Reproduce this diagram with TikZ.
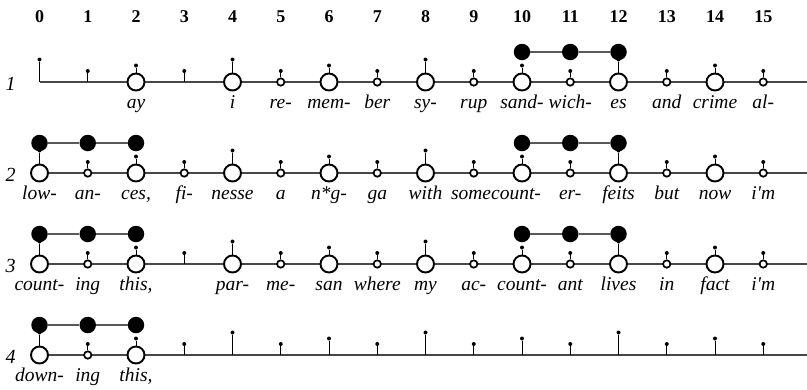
\documentclass[tikz,border=0pt]{standalone}
\usepackage{fontspec}
\setmainfont{Liberation Serif}
\tikzset{
  axisline/.style={draw=black!72, line width=1.4pt},
  stemline/.style={draw=black, line width=1pt},
  stemdot/.style={circle, fill=black, inner sep=0pt, minimum size=4pt},
  bigsyl/.style={circle, draw=black, fill=white, line width=1.9pt, minimum size=17pt, inner sep=0pt},
  smallsyl/.style={circle, draw=black, fill=white, line width=1.7pt, minimum size=7.4pt, inner sep=0pt},
  nosyl/.style={shape=coordinate},
  beatdot/.style={circle, fill=black, inner sep=0pt, minimum size=16.5pt},
  beatlink/.style={draw=black!65, line width=1.4pt},
  syl/.style={font=\fontsize{19.5}{19.5}\selectfont\itshape, anchor=base, inner sep=0pt},
  colnum/.style={font=\fontsize{18}{18}\selectfont\bfseries, anchor=base, inner sep=0pt},
  rowlab/.style={font=\fontsize{20}{20}\selectfont\itshape, anchor=base, inner sep=0pt},
}
\newcommand{\meterrow}[3]{%
  \coordinate (s#1) at (39.5,#2);
  \coordinate (e#1) at (807,#2);
  \draw[axisline] (s#1) -- (e#1);
  \node[rowlab] (lab#1) at (10.5,#2+8.7) {#1};
  \foreach \i/\k in {#3}{
    \pgfmathsetmacro\xx{39.5+48.25*\i}
    \pgfmathsetmacro\hh{mod(\i,4)==0 ? 22.5 : (mod(\i,2)==0 ? 16.5 : 11)}
    \node[\k] (c#1-\i) at (\xx,#2) {};
    \node[stemdot] (t#1-\i) at (\xx,#2-\hh) {};
    \draw[stemline] (c#1-\i) -- (t#1-\i);
  }
}
\newcommand{\sylrow}[3]{%
  \foreach \i/\s in {#3}{
    \node[syl] (w#1-\i) at ({39.5+48.25*\i},#2+26) {\s};
  }
}
\newcommand{\beatgroup}[3]{% row, y, first column
  \pgfmathtruncatemacro\ba{#3}
  \pgfmathtruncatemacro\bb{#3+1}
  \pgfmathtruncatemacro\bc{#3+2}
  \node[beatdot] (f#1-\ba) at ({39.5+48.25*\ba},#2-30) {};
  \node[beatdot] (f#1-\bb) at ({39.5+48.25*\bb},#2-30) {};
  \node[beatdot] (f#1-\bc) at ({39.5+48.25*\bc},#2-30) {};
  \draw[beatlink] (f#1-\ba) -- (f#1-\bb);
  \draw[beatlink] (f#1-\bb) -- (f#1-\bc);
}
\begin{document}
\begin{tikzpicture}[x=1pt,y=-1pt]
\useasboundingbox (0,0) rectangle (807,389);
\foreach \i in {0,...,15}
  \node[colnum] (n\i) at ({39.5+48.25*\i},22.7) {\i};

% row 1
\meterrow{1}{82}{0/nosyl,1/nosyl,2/bigsyl,3/nosyl,4/bigsyl,5/smallsyl,6/bigsyl,7/smallsyl,8/bigsyl,9/smallsyl,10/bigsyl,11/smallsyl,12/bigsyl,13/smallsyl,14/bigsyl,15/smallsyl}
\beatgroup{1}{82}{10}
\sylrow{1}{82}{2/ay,4/i,5/re-,6/mem-,7/ber,8/sy-,9/rup,10/sand-,11/wich-,12/es,13/and,14/crime,15/al-}

% row 2
\meterrow{2}{173}{0/bigsyl,1/smallsyl,2/bigsyl,3/smallsyl,4/bigsyl,5/smallsyl,6/bigsyl,7/smallsyl,8/bigsyl,9/smallsyl,10/bigsyl,11/smallsyl,12/bigsyl,13/smallsyl,14/bigsyl,15/smallsyl}
\beatgroup{2}{173}{0}
\beatgroup{2}{173}{10}
\sylrow{2}{173}{0/low-,1/an-,2/{ces,},3/fi-,4/nesse,5/a,6/n*g-,7/ga,8/with,11/er-,12/feits,13/but,14/now,15/i\textquotesingle m}
\node[syl] (w2-9) at (496,199) {somecount-};

% row 3
\meterrow{3}{264}{0/bigsyl,1/smallsyl,2/bigsyl,3/nosyl,4/bigsyl,5/smallsyl,6/bigsyl,7/smallsyl,8/bigsyl,9/smallsyl,10/bigsyl,11/smallsyl,12/bigsyl,13/smallsyl,14/bigsyl,15/smallsyl}
\beatgroup{3}{264}{0}
\beatgroup{3}{264}{10}
\sylrow{3}{264}{0/count-,1/ing,2/{this,},4/par-,5/me-,6/san,7/where,8/my,9/ac-,10/count-,11/ant,12/lives,13/in,14/fact,15/i\textquotesingle m}

% row 4
\meterrow{4}{355}{0/bigsyl,1/smallsyl,2/bigsyl,3/nosyl,4/nosyl,5/nosyl,6/nosyl,7/nosyl,8/nosyl,9/nosyl,10/nosyl,11/nosyl,12/nosyl,13/nosyl,14/nosyl,15/nosyl}
\beatgroup{4}{355}{0}
\sylrow{4}{355}{0/down-,1/ing,2/{this,}}
\end{tikzpicture}
\end{document}
